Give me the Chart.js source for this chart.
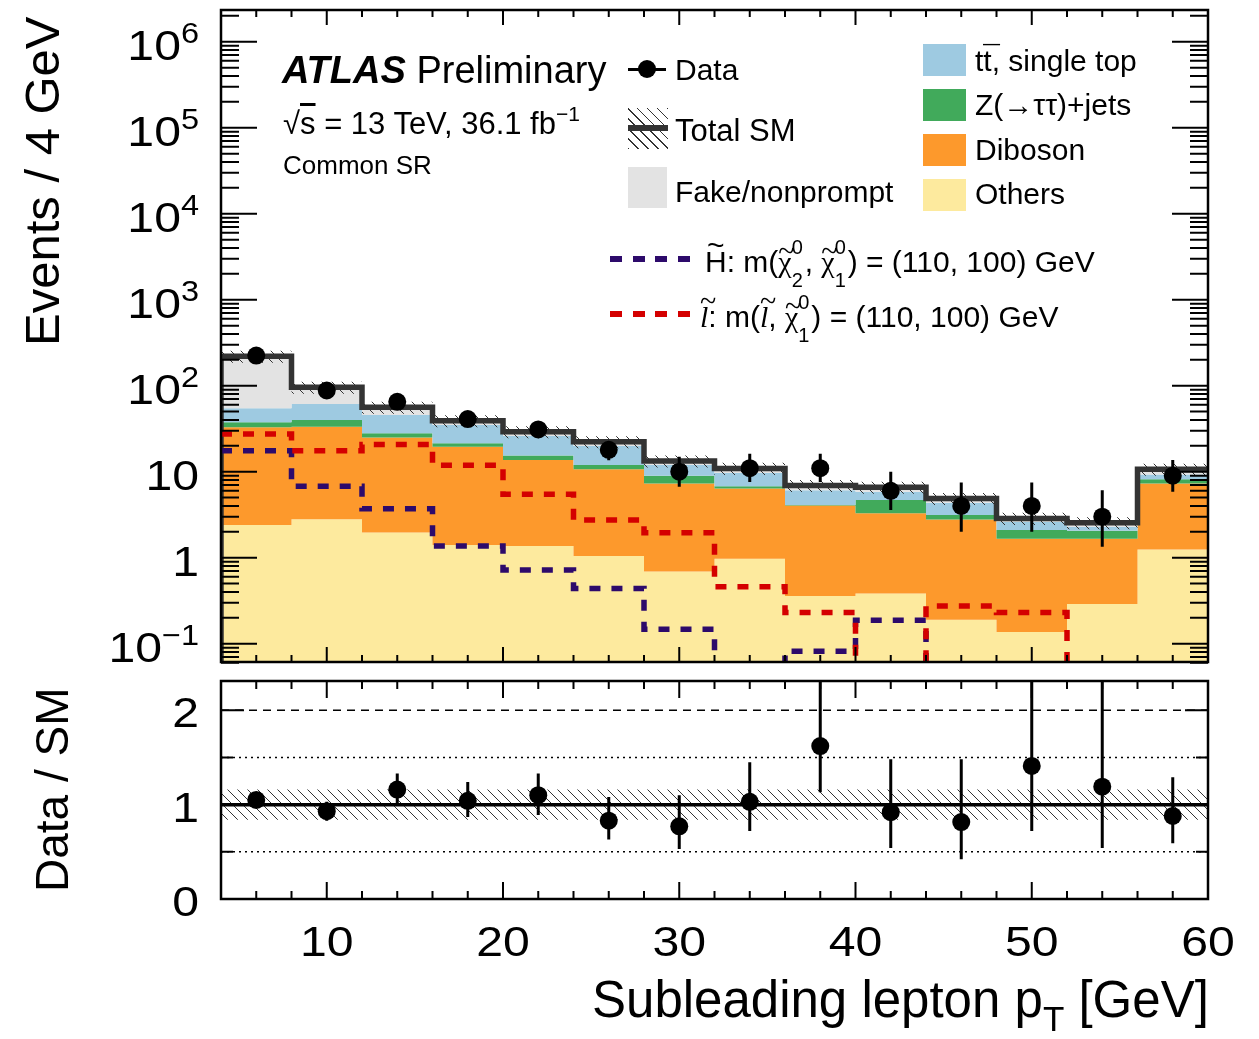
<!DOCTYPE html>
<html>
<head>
<meta charset="utf-8">
<title>Subleading lepton pT - Common SR</title>
<script src="https://cdn.jsdelivr.net/npm/chart.js@4.4.1/dist/chart.umd.min.js"></script>
<style>
  body { margin: 0; background: #fff; }
  #page { position: relative; width: 1259px; height: 1039px; overflow: hidden;
          font-family: "Liberation Sans", Arial, Helvetica, sans-serif; color: #000; }
  canvas { position: absolute; left: 0; }
  #main { top: 0; }
  #ratio { top: 672px; }
  .t { position: absolute; white-space: nowrap; }
  .box { position: absolute; }
  .ss { display: inline-block; position: relative; width: 13px; height: 0; }
  .ss .u { position: absolute; left: 0; bottom: 15px; font-size: 20px; line-height: 1; }
  .ss .d { position: absolute; left: 0; top: -2px; font-size: 20px; line-height: 1; }
  .acc { position: relative; display: inline-block; }
  .acc .m { position: absolute; left: 0; width: 100%; text-align: center; line-height: 1; }
  .serif { font-family: "Liberation Serif", "Times New Roman", serif; }
</style>
</head>
<body>
<div id="page">
  <canvas id="main" width="1259" height="672"></canvas>
  <canvas id="ratio" width="1259" height="367"></canvas>
</div>
<script>
// bins of subleading lepton pT [GeV]
const edges   = [4, 8, 12, 16, 20, 24, 28, 32, 36, 40, 44, 48, 52, 56, 60];
const centers = [6, 10, 14, 18, 22, 26, 30, 34, 38, 42, 46, 50, 54, 58];

// SM backgrounds, events / 4 GeV
const others  = [2.4, 2.8, 1.97, 1.41, 1.37, 1.05, 0.69, 0.97, 0.36, 0.385, 0.19, 0.137, 0.29, 1.25];
const diboson = [30.4, 30.6, 23.1, 18.1, 12.3, 9.65, 6.6, 5.4, 3.7, 2.9, 2.6, 1.52, 1.37, 6.05];
const zjets   = [4.7, 6.5, 2.9, 1.9, 1.8, 1.3, 1.7, 0.4, 0.05, 1.4, 0.34, 0.44, 0.4, 0.9];
const ttbar   = [17.1, 21.3, 17.6, 13.5, 10.5, 7.9, 3.0, 2.9, 2.0, 1.15, 1.22, 0.52, 0.23, 1.1];
const fakes   = [166, 34.6, 10.5, 4.3, 3.2, 2.4, 1.3, 1.26, 0.8, 0.75, 0.54, 0.25, 0.26, 1.4];
// relative uncertainty on total SM
const smUnc   = [0.16, 0.16, 0.16, 0.16, 0.16, 0.16, 0.16, 0.16, 0.16, 0.16, 0.16, 0.16, 0.16, 0.16];

// signals
const higgsino = [17.5, 6.8, 3.7, 1.37, 0.72, 0.44, 0.147, 0, 0.082, 0.187, 0, 0, 0, 0];
const slepton  = [27.4, 17.5, 20.8, 11.9, 5.46, 2.74, 1.95, 0.46, 0.23, 0, 0.274, 0.23, 0, 0];

// data
const data      = [224, 88, 65, 41, 31, 18, 10, 11, 11, 6, 4, 4, 3, 9];
const dataErrUp = [15, 9.4, 8, 6.4, 5.6, 4.4, 4.9, 5.2, 5.2, 4.0, 3.5, 3.5, 3.1, 4.7];
const dataErrDn = [15, 9.4, 8, 6.4, 5.6, 4.4, 3.3, 3.4, 3.4, 2.4, 2.0, 2.0, 1.66, 3.15];

// ratio panel
const ratio   = [1.05, 0.93, 1.16, 1.04, 1.10, 0.83, 0.77, 1.03, 1.62, 0.92, 0.815, 1.41, 1.19, 0.88];
const ratioHi = [1.11, 1.03, 1.33, 1.24, 1.33, 1.08, 1.10, 1.45, 2.6, 1.48, 1.48, 2.6, 2.6, 1.29];
const ratioLo = [0.99, 0.83, 1.00, 0.87, 0.89, 0.63, 0.53, 0.72, 1.13, 0.54, 0.42, 0.72, 0.54, 0.59];

// axis ticks
const yMajorTicks = [0.1, 1, 10, 100, 1e3, 1e4, 1e5, 1e6];
const yLabelBase  = ['10', '1', '10', '10', '10', '10', '10', '10'];
const yLabelExp   = ['\u22121', '', '', '2', '3', '4', '5', '6'];
const xLabelTicks = [10, 20, 30, 40, 50, 60];
const ratioMajor  = [0, 1, 2];
const ratioMinor  = [0.5, 1.5];

const FONT = '"Liberation Sans", Arial, Helvetica, sans-serif';
const EMPTY = 1e-3;   // empty bins are drawn below the axis floor

function addUp(...arrs) {
    return arrs[0].map((_, i) => arrs.reduce((s, a) => s + a[i], 0));
}

function hist(values, startAtFloor) {
    let pts = edges.map((x, i) => {
        let v = values[Math.min(i, values.length - 1)];
        return {x: x, y: v > 0 ? v : EMPTY};
    });
    if (startAtFloor) pts.unshift({x: edges[0], y: EMPTY});
    return pts;
}

function step(values, extra, startAtFloor) {
    return Object.assign({
        data: hist(values, startAtFloor),
        stepped: true,
        pointRadius: 0,
        borderWidth: 0,
        borderColor: 'transparent',
        fill: false,
        clip: 0
    }, extra);
}

function hatchPattern() {
    const c = document.createElement('canvas');
    c.width = 10; c.height = 10;
    const g = c.getContext('2d');
    g.strokeStyle = '#333';
    g.lineWidth = 1;
    g.beginPath();
    g.moveTo(-1, -1); g.lineTo(11, 11);
    g.moveTo(-1, 9); g.lineTo(1, 11);
    g.moveTo(9, -1); g.lineTo(11, 1);
    g.stroke();
    return g.createPattern(c, 'repeat');
}

function stretchText(ctx, text, x, y, sx) {
    ctx.save();
    ctx.translate(x, y);
    ctx.scale(sx, 1);
    ctx.fillText(text, 0, 0);
    ctx.restore();
}

// frame, inward ticks and tick labels
const framePlugin = {
    id: 'frame',
    afterDraw(chart, args, o) {
        const ctx = chart.ctx, a = chart.chartArea;
        const xs = chart.scales.x, ys = chart.scales.y;
        ctx.save();
        ctx.strokeStyle = '#000';
        ctx.lineWidth = 2;
        ctx.beginPath();
        for (let v = 6; v < 60; v += 2) {
            const px = xs.getPixelForValue(v);
            const len = v % 10 === 0 ? o.xMajor : o.xMinor;
            ctx.moveTo(px, a.bottom); ctx.lineTo(px, a.bottom - len);
            ctx.moveTo(px, a.top); ctx.lineTo(px, a.top + len);
        }
        for (const t of o.yTicks) {
            const py = ys.getPixelForValue(t.v);
            if (py < a.top - 1 || py > a.bottom + 1) continue;
            ctx.moveTo(a.left, py); ctx.lineTo(a.left + t.len, py);
            ctx.moveTo(a.right, py); ctx.lineTo(a.right - t.len, py);
        }
        ctx.stroke();
        ctx.lineWidth = 2.5;
        ctx.strokeRect(a.left, a.top, a.right - a.left, a.bottom - a.top);

        ctx.fillStyle = '#000';
        ctx.textBaseline = 'alphabetic';
        ctx.textAlign = 'left';
        const sx = 1.12;
        const right = a.left - 22;
        if (o.logLabels) {
            yMajorTicks.forEach((v, i) => {
                const py = ys.getPixelForValue(v);
                ctx.font = '43px ' + FONT;
                const wb = ctx.measureText(yLabelBase[i]).width;
                ctx.font = '29px ' + FONT;
                const we = yLabelExp[i] ? ctx.measureText(yLabelExp[i]).width : 0;
                const x0 = right - (wb + we) * sx;
                ctx.font = '43px ' + FONT;
                stretchText(ctx, yLabelBase[i], x0, py + 18, sx);
                if (we) {
                    ctx.font = '29px ' + FONT;
                    stretchText(ctx, yLabelExp[i], x0 + wb * sx, py + 1, sx);
                }
            });
        }
        if (o.linLabels) {
            ctx.font = '43px ' + FONT;
            ratioMajor.forEach(v => {
                const py = ys.getPixelForValue(v);
                const s = String(v);
                const w = ctx.measureText(s).width * sx;
                stretchText(ctx, s, right - w, py + 17, sx);
            });
        }
        if (o.xLabels) {
            ctx.font = '43px ' + FONT;
            xLabelTicks.forEach(v => {
                const px = xs.getPixelForValue(v);
                const s = String(v);
                const w = ctx.measureText(s).width * sx;
                stretchText(ctx, s, px - w / 2, a.bottom + 57, sx);
            });
        }
        ctx.restore();
    }
};

// vertical error bars on data points
const errorBarPlugin = {
    id: 'errorBars',
    afterDatasetsDraw(chart, args, o) {
        const ctx = chart.ctx, a = chart.chartArea;
        const xs = chart.scales.x, ys = chart.scales.y;
        ctx.save();
        ctx.beginPath();
        ctx.rect(a.left, a.top, a.right - a.left, a.bottom - a.top);
        ctx.clip();
        ctx.strokeStyle = '#000';
        ctx.lineWidth = 3;
        ctx.beginPath();
        o.x.forEach((xv, i) => {
            const px = xs.getPixelForValue(xv);
            ctx.moveTo(px, ys.getPixelForValue(o.lo[i]));
            ctx.lineTo(px, ys.getPixelForValue(o.hi[i]));
        });
        ctx.stroke();
        ctx.restore();
    }
};

const hatch = hatchPattern();

// stacked tops
const top1 = others;
const top2 = addUp(others, diboson);
const top3 = addUp(others, diboson, zjets);
const top4 = addUp(others, diboson, zjets, ttbar);
const total = addUp(others, diboson, zjets, ttbar, fakes);
const bandLo = total.map((v, i) => v * (1 - smUnc[i]));
const bandHi = total.map((v, i) => v * (1 + smUnc[i]));

let mainSets = [
    step(top1, {fill: 'start', backgroundColor: '#fdea9e'}),
    step(top2, {fill: '-1', backgroundColor: '#fd992c'}),
    step(top3, {fill: '-1', backgroundColor: '#41aa5b'}),
    step(top4, {fill: '-1', backgroundColor: '#9ecae1'}),
    step(total, {fill: '-1', backgroundColor: '#e3e3e3'}),
    step(bandLo, {}),
    step(bandHi, {fill: '-1', backgroundColor: hatch}),
    step(total, {borderWidth: 5.5, borderColor: '#333333'}, true),
    step(higgsino, {borderWidth: 5.5, borderColor: '#2d0a6b', borderDash: [11, 11], borderCapStyle: 'butt'}),
    step(slepton, {borderWidth: 5.5, borderColor: '#d40000', borderDash: [11, 11], borderCapStyle: 'butt'}),
    {
        data: centers.map((x, i) => ({x: x, y: data[i]})),
        showLine: false,
        pointRadius: 9,
        pointBackgroundColor: '#000',
        pointBorderWidth: 0,
        clip: false
    }
];
mainSets.forEach((d, i) => { d.order = 100 - i; });

let logTicks = yMajorTicks.map(v => ({v: v, len: 36}));
for (let d = -2; d <= 6; d++) {
    for (let m = 2; m <= 9; m++) logTicks.push({v: m * Math.pow(10, d), len: 18});
}

new Chart(document.getElementById('main'), {
    type: 'line',
    data: {datasets: mainSets},
    plugins: [framePlugin, errorBarPlugin],
    options: {
        responsive: false,
        devicePixelRatio: 1,
        animation: false,
        events: [],
        layout: {padding: {left: 221, right: 51, top: 10, bottom: 10}},
        scales: {
            x: {type: 'linear', min: 4, max: 60, bounds: 'data', display: false},
            y: {type: 'logarithmic', min: 0.0613, max: 2.34e6, bounds: 'data', display: false}
        },
        plugins: {
            legend: {display: false},
            tooltip: {enabled: false},
            frame: {xMinor: 7, xMajor: 15, yTicks: logTicks, logLabels: true},
            errorBars: {
                x: centers,
                lo: data.map((v, i) => v - dataErrDn[i]),
                hi: data.map((v, i) => v + dataErrUp[i])
            }
        }
    }
});

// ratio panel
const flat = (y) => [{x: edges[0], y: y}, {x: edges[edges.length - 1], y: y}];
let ratioSets = [
    step(smUnc.map(u => 1 - u), {}),
    step(smUnc.map(u => 1 + u), {fill: '-1', backgroundColor: hatch}),
    {data: flat(2), borderColor: '#000', borderWidth: 1.5, borderDash: [8, 6], pointRadius: 0, fill: false},
    {data: flat(1.5), borderColor: '#000', borderWidth: 1.5, borderDash: [2, 4], pointRadius: 0, fill: false},
    {data: flat(0.5), borderColor: '#000', borderWidth: 1.5, borderDash: [2, 4], pointRadius: 0, fill: false},
    {data: flat(1), borderColor: '#000', borderWidth: 3.5, pointRadius: 0, fill: false},
    {
        data: centers.map((x, i) => ({x: x, y: ratio[i]})),
        showLine: false,
        pointRadius: 9,
        pointBackgroundColor: '#000',
        pointBorderWidth: 0,
        clip: false
    }
];
ratioSets.forEach((d, i) => { d.order = 100 - i; });

new Chart(document.getElementById('ratio'), {
    type: 'line',
    data: {datasets: ratioSets},
    plugins: [framePlugin, errorBarPlugin],
    options: {
        responsive: false,
        devicePixelRatio: 1,
        animation: false,
        events: [],
        layout: {padding: {left: 221, right: 51, top: 9, bottom: 140}},
        scales: {
            x: {type: 'linear', min: 4, max: 60, bounds: 'data', display: false},
            y: {type: 'linear', min: 0, max: 2.31, bounds: 'data', display: false}
        },
        plugins: {
            legend: {display: false},
            tooltip: {enabled: false},
            frame: {
                xMinor: 8, xMajor: 17,
                yTicks: ratioMajor.map(v => ({v: v, len: 23})).concat(ratioMinor.map(v => ({v: v, len: 12}))),
                linLabels: true, xLabels: true
            },
            errorBars: {x: centers, lo: ratioLo, hi: ratioHi}
        }
    }
});

// text and legend overlay
const page = document.getElementById('page');

function addText(html, x, base, size, align) {
    const el = document.createElement('div');
    el.className = 't';
    el.style.fontSize = size + 'px';
    el.style.lineHeight = size + 'px';
    el.style.top = (base - 0.8465 * size) + 'px';
    el.innerHTML = html;
    page.appendChild(el);
    el.style.left = (align === 'right' ? x - el.offsetWidth : x) + 'px';
    return el;
}

function addVText(html, xBase, yTop, size) {
    const el = addText(html, 0, 0, size);
    const w = el.offsetWidth;
    el.style.left = (xBase - 0.8465 * size) + 'px';
    el.style.top = (yTop + w) + 'px';
    el.style.transformOrigin = '0 0';
    el.style.transform = 'rotate(-90deg)';
}

function addBox(x, y, w, h, bg) {
    const el = document.createElement('div');
    el.className = 'box';
    el.style.left = x + 'px'; el.style.top = y + 'px';
    el.style.width = w + 'px'; el.style.height = h + 'px';
    el.style.background = bg;
    page.appendChild(el);
    return el;
}

// letter with an accent (tilde, bar) placed above it
const acc = (ch, mark, dy, cls) =>
    '<span class="acc' + (cls ? ' ' + cls : '') + '">' + ch +
    '<span class="m" style="top:' + dy + 'px">' + mark + '</span></span>';
const ss = (u, d) => '<span class="ss"><span class="u">' + u + '</span><span class="d">' + d + '</span></span>';
const chi = acc('\u03C7', '~', -11, 'serif');
const slep = acc('<i>l</i>', '~', -16, 'serif');

addVText('Events / 4 GeV', 59, 16, 49);
addVText('Data / SM', 68, 687, 46);
addText('Subleading lepton p<span style="font-size:35px;line-height:0;position:relative;top:14px">T</span> [GeV]',
        1209, 1017, 51, 'right');

addText('<b><i>ATLAS</i></b> Preliminary', 282, 83, 38);
addText('\u221A<span style="text-decoration:overline">s</span> = 13 TeV, 36.1 fb<span style="font-size:21px;line-height:0;position:relative;top:-13px">\u22121</span>',
        283, 134, 31);
addText('Common SR', 283, 174, 26);

// legend, first column
addBox(628, 67.5, 38, 3, '#000');
const dot = addBox(638, 60, 18, 18, '#000');
dot.style.borderRadius = '50%';
addText('Data', 675, 80, 30);
addBox(628, 108, 40, 41, 'repeating-linear-gradient(45deg, #333 0 1px, transparent 1px 7px)');
addBox(628, 125, 40, 6, '#333');
addText('Total SM', 675, 141, 31);
addBox(628, 167, 39, 41, '#e3e3e3');
addText('Fake/nonprompt', 675, 202, 30);

// legend, second column
addBox(923, 44, 43, 32, '#9ecae1');
addText('t' + acc('t', '\u00AF', -5), 975, 71, 30).insertAdjacentHTML('beforeend', ', single top');
addBox(923, 89, 43, 32, '#41aa5b');
addText('Z(\u2192\u03C4\u03C4)+jets', 975, 115, 30);
addBox(923, 134, 43, 32, '#fd992c');
addText('Diboson', 975, 160, 30);
addBox(923, 179, 43, 32, '#fdea9e');
addText('Others', 975, 204, 30);

// signal legend
addBox(610, 256, 80, 6, 'repeating-linear-gradient(90deg, #2d0a6b 0 12px, transparent 12px 22.7px)');
addText(acc('H', '~', -17) + ': m(' + chi + ss('0', '2') + ', ' + chi + ss('0', '1') + ') = (110, 100) GeV', 705, 272, 30);
addBox(610, 311, 80, 6, 'repeating-linear-gradient(90deg, #d40000 0 12px, transparent 12px 22.7px)');
addText(slep + ': m(' + slep + ', ' + chi + ss('0', '1') + ') = (110, 100) GeV', 700, 327, 30);
</script>
</body>
</html>
